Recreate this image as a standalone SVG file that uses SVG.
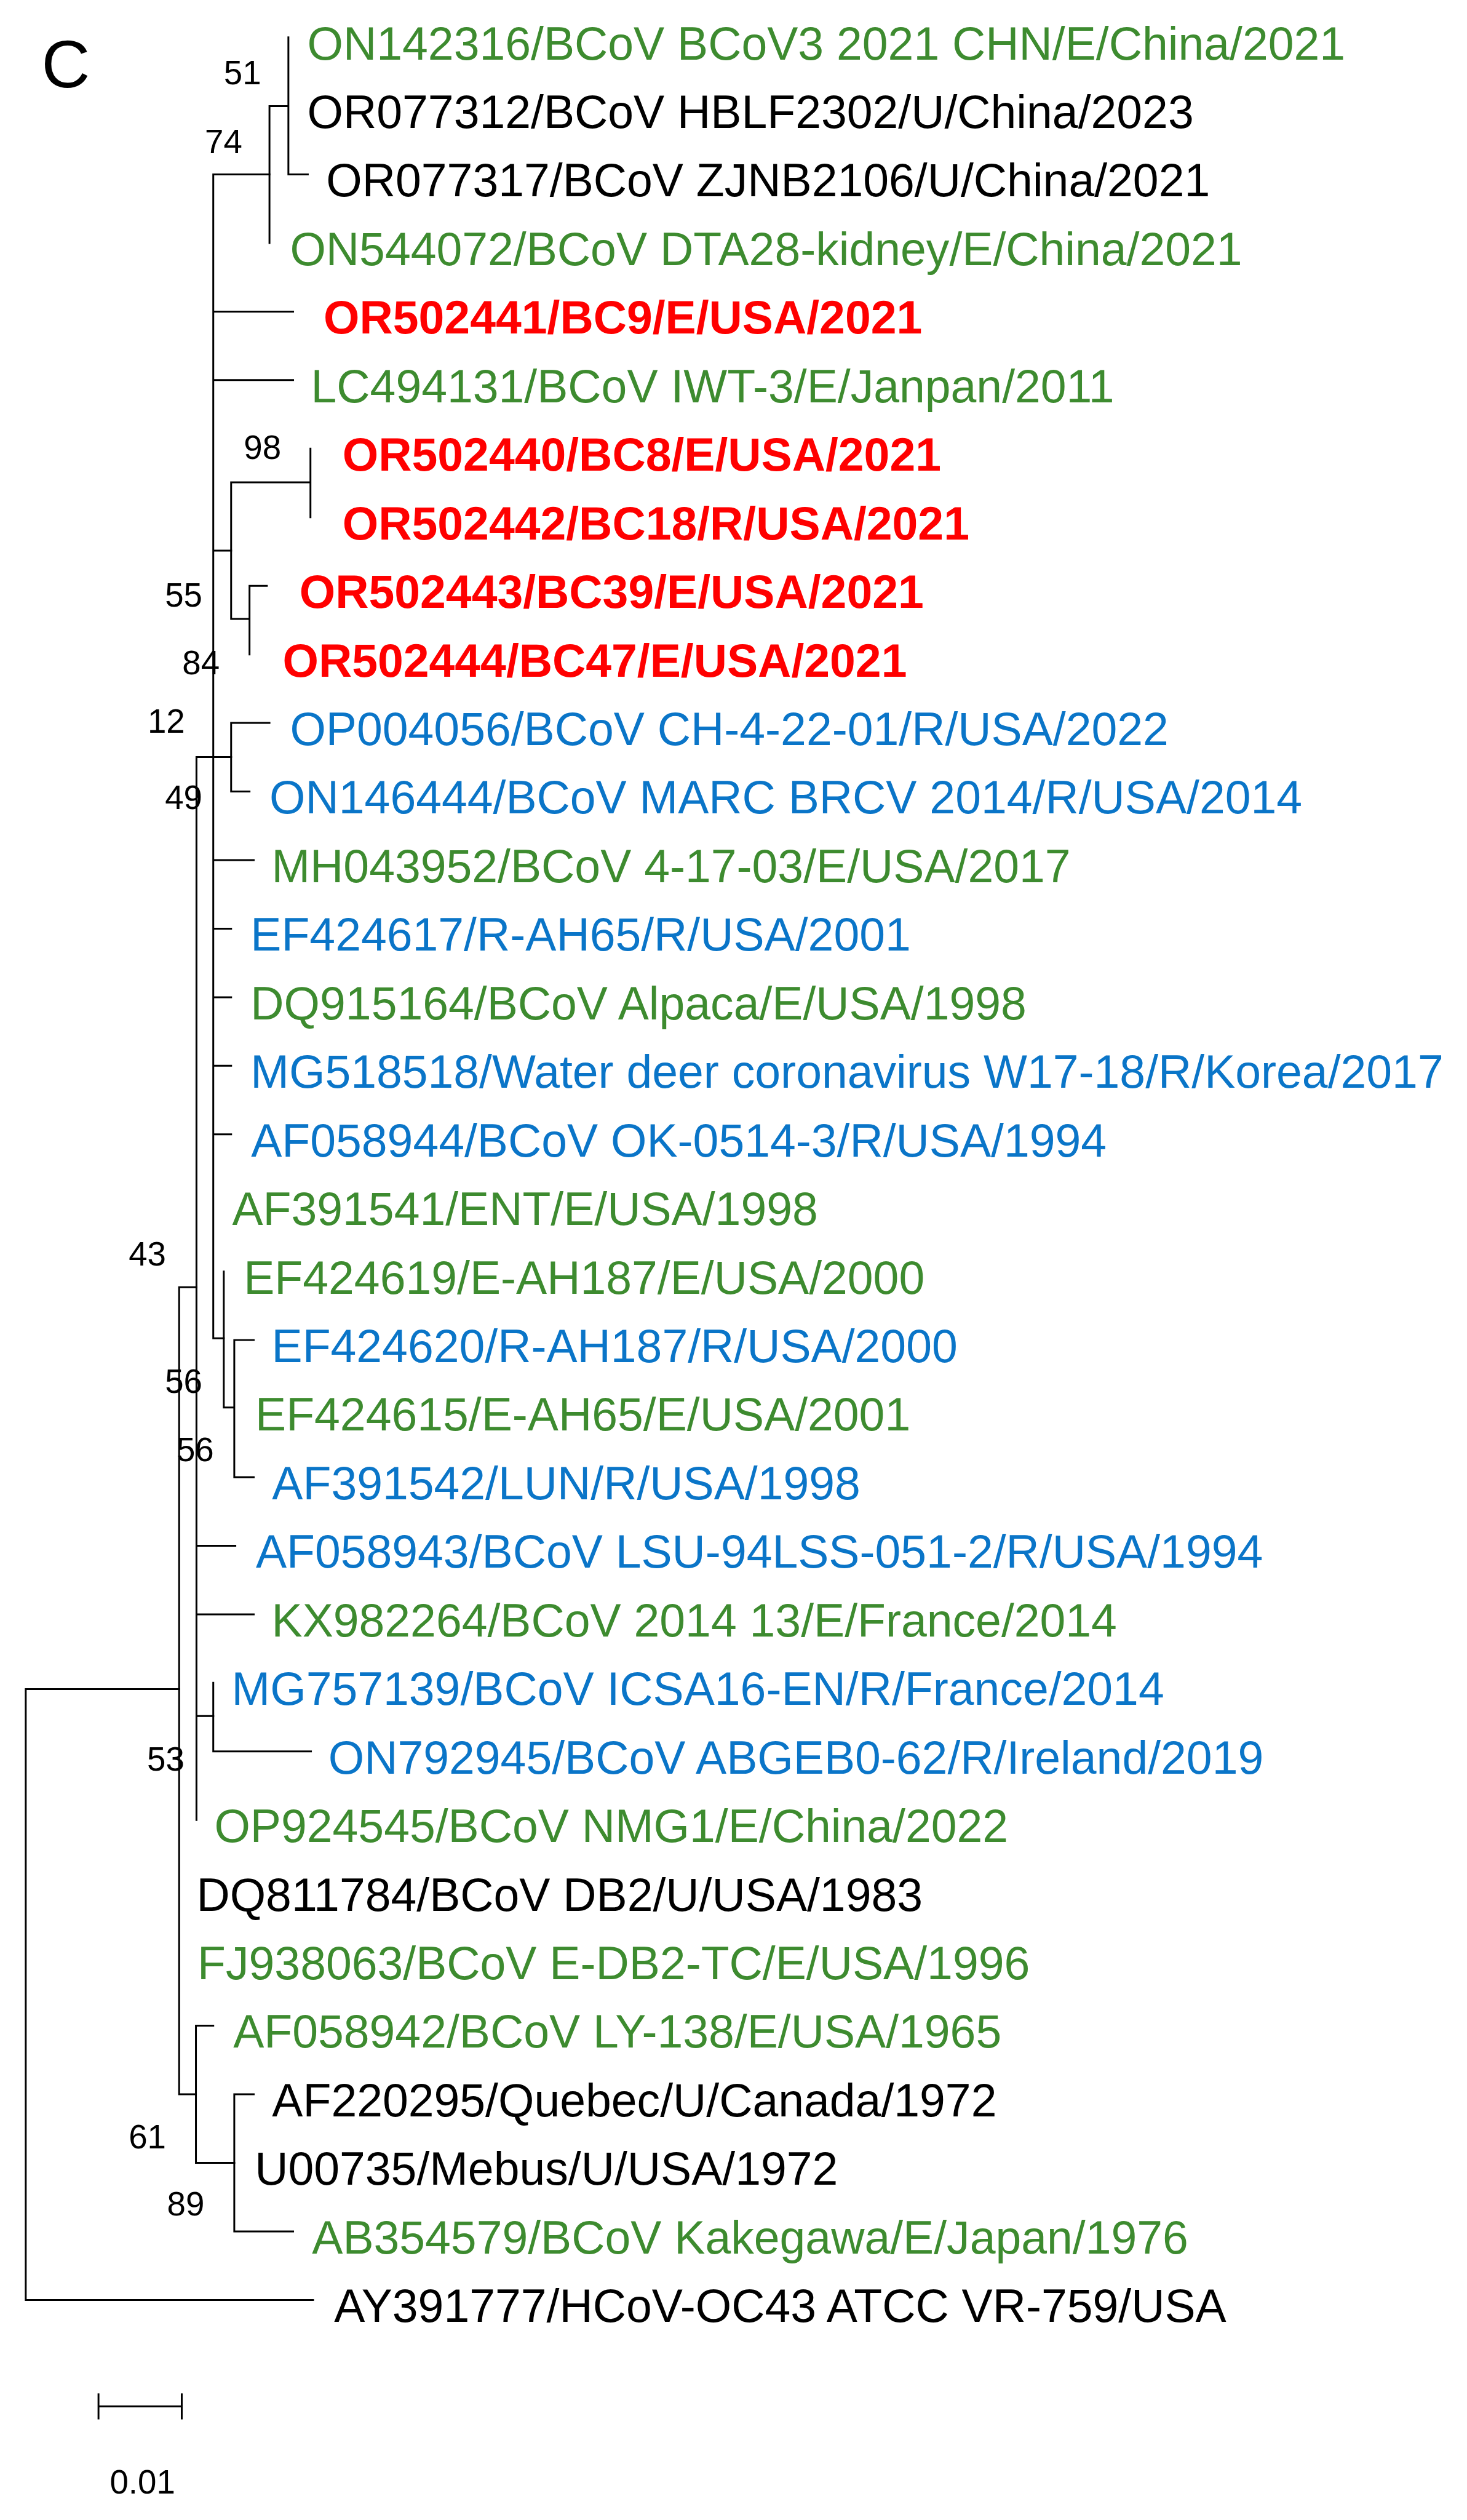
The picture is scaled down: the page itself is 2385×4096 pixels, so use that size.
<svg xmlns="http://www.w3.org/2000/svg" width="2385" height="4096" viewBox="0 0 2385 4096">
<style>
text{font-family:"Liberation Sans",Arial,sans-serif}
.t{font-size:88px}
.g{fill:#3d8b2f}
.b{fill:#0a75c8}
.k{fill:#000}
.r{fill:#ff0000;font-weight:bold}
.bs{font-size:64px;fill:#000}
.br{stroke:#000;stroke-width:3.5;fill:none;stroke-linecap:square}
</style>
<rect width="2385" height="4096" fill="#fff"/>
<g transform="scale(0.854)">
<g id="panel-label"><text x="79" y="166" style="font-size:128px">C</text></g>
<g id="branches" class="br">
<path d="M49,3215V4377.5M49,3215H341M49,4377.5H596"/>
<path d="M341,2450V3986M341,2450H374M341,3986H373"/>
<path d="M373,3855.5V4116.5M373,3855.5H406M373,4116.5H446"/>
<path d="M446,3986V4247M446,3986H483M446,4247H558"/>
<path d="M374,1441V3464M374,1441H440M374,2942H448M374,3072.5H483M374,3266H406"/>
<path d="M406,3203V3333.5M406,3333.5H592"/>
<path d="M406,332V2547M406,332H513M406,593H558M406,723.5H558M406,1048H440M406,1637H483M406,1767.5H440M406,1898H440M406,2028.5H440M406,2159H440M406,2547H426"/>
<path d="M513,202V462.5M513,202H549M549,71V332M549,332H586"/>
<path d="M440,918V1178M440,918H591M591,854V984.5M440,1178H475M475,1115V1245.5M475,1115H508"/>
<path d="M440,1376V1506.5M440,1376H513M440,1506.5H475"/>
<path d="M426,2420V2679M426,2679H446M446,2550.5V2811.5M446,2550.5H483M446,2811.5H483"/>
</g>
<g id="bootstrap">
<text class="bs" x="426" y="161">51</text>
<text class="bs" x="390" y="291">74</text>
<text class="bs" x="464" y="874">98</text>
<text class="bs" x="314" y="1155">55</text>
<text class="bs" x="347" y="1283">84</text>
<text class="bs" x="281" y="1395">12</text>
<text class="bs" x="314" y="1540">49</text>
<text class="bs" x="245" y="2409">43</text>
<text class="bs" x="314" y="2651">56</text>
<text class="bs" x="336" y="2781">56</text>
<text class="bs" x="280" y="3370">53</text>
<text class="bs" x="245" y="4089">61</text>
<text class="bs" x="318" y="4217">89</text>
</g>
<g id="scale-bar">
<path class="br" d="M187.5,4580H346M187.5,4557V4603M346,4557V4603"/>
<text class="bs" x="209" y="4746">0.01</text>
</g>
<g id="taxa" class="t">
<g id="ON142316"><text class="g" x="585" y="113">ON142316/BCoV BCoV3 2021 CHN/E/China/2021</text></g>
<g id="OR077312"><text class="k" x="585" y="243.5">OR077312/BCoV HBLF2302/U/China/2023</text></g>
<g id="OR077317"><text class="k" x="621" y="374">OR077317/BCoV ZJNB2106/U/China/2021</text></g>
<g id="ON544072"><text class="g" x="552" y="504.5">ON544072/BCoV DTA28-kidney/E/China/2021</text></g>
<g id="OR502441"><text class="r" x="616" y="635">OR502441/BC9/E/USA/2021</text></g>
<g id="LC494131"><text class="g" x="592" y="765.5">LC494131/BCoV IWT-3/E/Janpan/2011</text></g>
<g id="OR502440"><text class="r" x="652" y="896">OR502440/BC8/E/USA/2021</text></g>
<g id="OR502442"><text class="r" x="652" y="1026.5">OR502442/BC18/R/USA/2021</text></g>
<g id="OR502443"><text class="r" x="570" y="1157">OR502443/BC39/E/USA/2021</text></g>
<g id="OR502444"><text class="r" x="538" y="1287.5">OR502444/BC47/E/USA/2021</text></g>
<g id="OP004056"><text class="b" x="552" y="1418">OP004056/BCoV CH-4-22-01/R/USA/2022</text></g>
<g id="ON146444"><text class="b" x="513" y="1548.5">ON146444/BCoV MARC BRCV 2014/R/USA/2014</text></g>
<g id="MH043952"><text class="g" x="517" y="1679">MH043952/BCoV 4-17-03/E/USA/2017</text></g>
<g id="EF424617"><text class="b" x="477" y="1809.5">EF424617/R-AH65/R/USA/2001</text></g>
<g id="DQ915164"><text class="g" x="477" y="1940">DQ915164/BCoV Alpaca/E/USA/1998</text></g>
<g id="MG518518"><text class="b" x="477" y="2070.5">MG518518/Water deer coronavirus W17-18/R/Korea/2017</text></g>
<g id="AF058944"><text class="b" x="478" y="2201">AF058944/BCoV OK-0514-3/R/USA/1994</text></g>
<g id="AF391541"><text class="g" x="442" y="2331.5">AF391541/ENT/E/USA/1998</text></g>
<g id="EF424619"><text class="g" x="464" y="2462">EF424619/E-AH187/E/USA/2000</text></g>
<g id="EF424620"><text class="b" x="517" y="2592.5">EF424620/R-AH187/R/USA/2000</text></g>
<g id="EF424615"><text class="g" x="486" y="2723">EF424615/E-AH65/E/USA/2001</text></g>
<g id="AF391542"><text class="b" x="518" y="2853.5">AF391542/LUN/R/USA/1998</text></g>
<g id="AF058943"><text class="b" x="487" y="2984">AF058943/BCoV LSU-94LSS-051-2/R/USA/1994</text></g>
<g id="KX982264"><text class="g" x="517" y="3114.5">KX982264/BCoV 2014 13/E/France/2014</text></g>
<g id="MG757139"><text class="b" x="441" y="3245">MG757139/BCoV ICSA16-EN/R/France/2014</text></g>
<g id="ON792945"><text class="b" x="625" y="3375.5">ON792945/BCoV ABGEB0-62/R/Ireland/2019</text></g>
<g id="OP924545"><text class="g" x="408" y="3506">OP924545/BCoV NMG1/E/China/2022</text></g>
<g id="DQ811784"><text class="k" x="374" y="3636.5">DQ811784/BCoV DB2/U/USA/1983</text></g>
<g id="FJ938063"><text class="g" x="376" y="3767">FJ938063/BCoV E-DB2-TC/E/USA/1996</text></g>
<g id="AF058942"><text class="g" x="444" y="3897.5">AF058942/BCoV LY-138/E/USA/1965</text></g>
<g id="AF220295"><text class="k" x="518" y="4028">AF220295/Quebec/U/Canada/1972</text></g>
<g id="U00735"><text class="k" x="485" y="4158.5">U00735/Mebus/U/USA/1972</text></g>
<g id="AB354579"><text class="g" x="594" y="4289">AB354579/BCoV Kakegawa/E/Japan/1976</text></g>
<g id="AY391777"><text class="k" x="636" y="4419.5">AY391777/HCoV-OC43 ATCC VR-759/USA</text></g>
</g>
</g>
</svg>
